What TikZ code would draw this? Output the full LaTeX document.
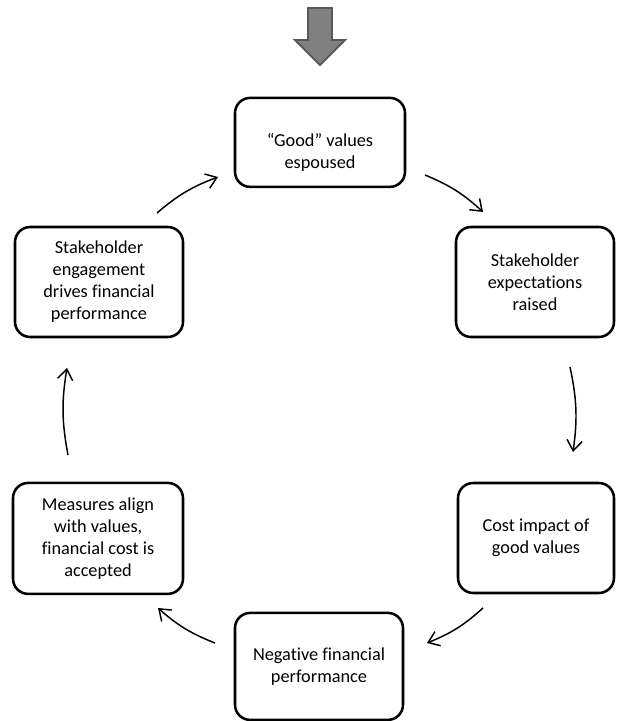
\documentclass[tikz,border=0pt]{standalone}
\usepackage{fontspec}
\setmainfont{Carlito}[Ligatures=NoCommon]
\usetikzlibrary{arrows.meta}

\begin{document}
\begin{tikzpicture}[
        box/.style={draw, line width=1.8pt, rounded corners=3.8mm, align=center,
          font=\fontsize{13}{15.6}\selectfont, inner sep=0pt},
        flow/.style={->, line width=1.05pt},
        bigarrow/.style={draw=black!65, fill=black!50, line width=1.4pt},
        >={Straight Barb[length=2.6mm,width=3.8mm]}]
      \useasboundingbox (0,0) rectangle (15.4,-18.025);
      % boxes of the cycle
      \node (good) at (8,-3.56) [box, minimum width=4.25cm, minimum height=2.225cm]
        {\rule{0pt}{23pt}``Good'' values\\espoused};
      \node (expect) at (13.375,-7.05) [box, minimum width=3.95cm, minimum height=2.75cm]
        {Stakeholder\\expectations\\raised};
      \node (cost) at (13.4,-13.45) [box, minimum width=3.9cm, minimum height=2.75cm]
        {Cost impact of\\good values};
      \node (neg) at (7.975,-16.66) [box, minimum width=4.2cm, minimum height=2.675cm]
        {Negative financial\\performance};
      \node (measures) at (2.45,-13.46) [box, minimum width=4.25cm, minimum height=2.775cm]
        {Measures align\\with values,\\financial cost is\\accepted};
      \node (engage) at (2.475,-7.05) [box, minimum width=4.2cm, minimum height=2.75cm]
        {Stakeholder\\engagement\\drives financial\\performance};
      % arrow ends
      \coordinate (g-out) at (10.625,-4.375);
      \coordinate (e-in) at (12.075,-5.3);
      \coordinate (e-out) at (14.25,-9.175);
      \coordinate (c-in) at (14.325,-11.3);
      \coordinate (c-out) at (12.075,-15.2);
      \coordinate (n-in) at (10.675,-16.075);
      \coordinate (n-out) at (5.375,-16.075);
      \coordinate (m-in) at (3.95,-15.2);
      \coordinate (m-out) at (1.7,-11.375);
      \coordinate (s-in) at (1.675,-9.2);
      \coordinate (s-out) at (3.925,-5.325);
      \coordinate (g-in) at (5.45,-4.425);
      \draw[flow] (g-out) to[bend left=10] (e-in);
      \draw[flow] (e-out) to[bend left=10] (c-in);
      \draw[flow] (c-out) to[bend left=10] (n-in);
      \draw[flow] (n-out) to[bend left=10] (m-in);
      \draw[flow] (m-out) to[bend left=10] (s-in);
      \draw[flow] (s-out) to[bend left=10] (g-in);
      % entry arrow
      \draw[bigarrow] (7.7,-0.2) -- (8.3,-0.2) -- (8.3,-1.0) -- (8.625,-1.0)
        -- (8,-1.625) -- (7.375,-1.0) -- (7.7,-1.0) -- cycle;
    \end{tikzpicture}
\end{document}
